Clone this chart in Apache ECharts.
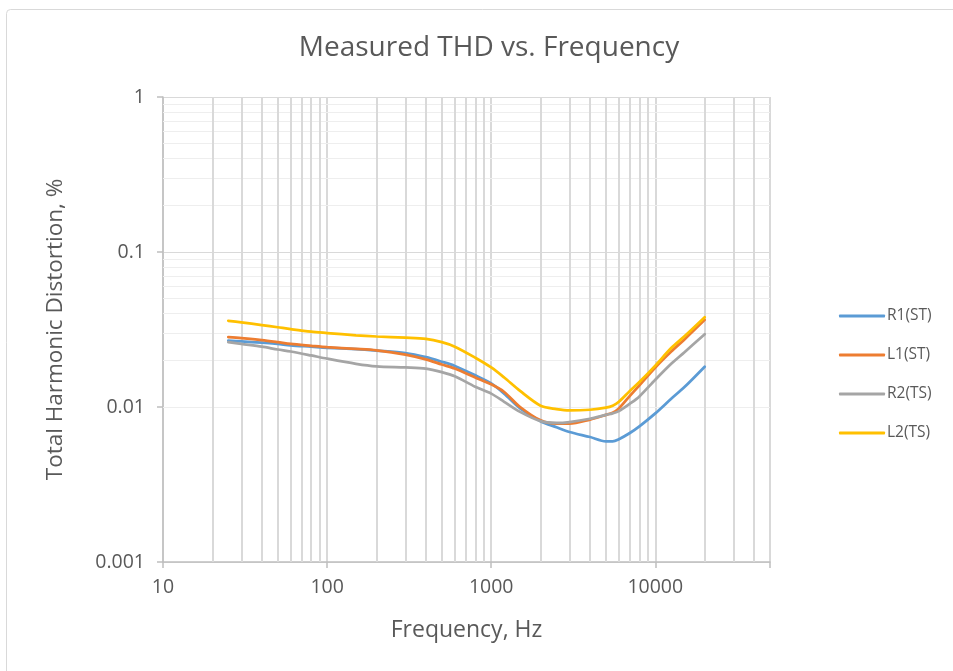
<!DOCTYPE html>
<html>
<head>
<meta charset="utf-8">
<script src="https://cdn.jsdelivr.net/npm/echarts@6/dist/echarts.min.js"></script>
<style>
html,body{margin:0;padding:0;background:#fff;}
#chart{width:953px;height:671px;}
</style>
</head>
<body>
<div id="chart"></div>
<script>
const frequencies = [25, 30, 40, 50, 60, 80, 100, 150, 200, 300, 400, 500, 600, 800, 1000, 1200, 1500, 2000, 2500, 3000, 4000, 5000, 5500, 6000, 7000, 8000, 10000, 12500, 15000, 20000];
const r1ST = [0.0268, 0.0265, 0.0260, 0.0255, 0.0250, 0.0245, 0.0241, 0.0236, 0.0231, 0.0223, 0.0210, 0.0196, 0.0184, 0.0160, 0.0142, 0.0122, 0.0098, 0.0081, 0.0074, 0.0069, 0.0064, 0.0060, 0.0060, 0.0062, 0.0068, 0.0075, 0.0091, 0.0113, 0.0134, 0.0182];
const l1ST = [0.0282, 0.0278, 0.0270, 0.0262, 0.0255, 0.0248, 0.0243, 0.0237, 0.0232, 0.0218, 0.0203, 0.0188, 0.0177, 0.0155, 0.0140, 0.0125, 0.0100, 0.0082, 0.0078, 0.0078, 0.0083, 0.0089, 0.0092, 0.0098, 0.0118, 0.0138, 0.0180, 0.0228, 0.0272, 0.0365];
const r2TS = [0.0262, 0.0255, 0.0245, 0.0235, 0.0228, 0.0215, 0.0205, 0.0190, 0.0183, 0.0180, 0.0177, 0.0168, 0.0158, 0.0135, 0.0122, 0.0108, 0.0093, 0.0081, 0.0079, 0.0080, 0.0084, 0.0089, 0.0091, 0.0094, 0.0105, 0.0117, 0.0150, 0.0190, 0.0225, 0.0295];
const l2TS = [0.0360, 0.0352, 0.0338, 0.0327, 0.0318, 0.0306, 0.0300, 0.0290, 0.0285, 0.0280, 0.0275, 0.0262, 0.0245, 0.0208, 0.0180, 0.0155, 0.0127, 0.0102, 0.0097, 0.0095, 0.0096, 0.0099, 0.0102, 0.0108, 0.0127, 0.0145, 0.0185, 0.0240, 0.0285, 0.0380];
const seriesNames = ['R1(ST)', 'L1(ST)', 'R2(TS)', 'L2(TS)'];
const seriesColors = ['#5B9BD5', '#ED7D31', '#A5A5A5', '#FFC000'];
const xTickLabels = ['10', '100', '1000', '10000'];
const yTickLabels = ['0.001', '0.01', '0.1', '1'];
const xMinorGrid = [20,30,40,50,60,70,80,90,200,300,400,500,600,700,800,900,2000,3000,4000,5000,6000,7000,8000,9000,20000,30000,40000];
const yMinorGrid = [0.002,0.003,0.004,0.005,0.006,0.007,0.008,0.009,0.02,0.03,0.04,0.05,0.06,0.07,0.08,0.09,0.2,0.3,0.4,0.5,0.6,0.7,0.8,0.9];

const font = "'Open Sans', 'Noto Sans', sans-serif";
const chart = echarts.init(document.getElementById('chart'));
const allData = [r1ST, l1ST, r2TS, l2TS];

const lineSeries = seriesNames.map((name, i) => ({
  name: name,
  type: 'line',
  smooth: 0.3,
  showSymbol: false,
  symbol: 'none',
  z: 5,
  lineStyle: { color: seriesColors[i], width: 2.75, cap: 'round' },
  itemStyle: { color: seriesColors[i] },
  data: frequencies.map((f, k) => [f, allData[i][k]])
}));

const gridSeries = {
  name: 'grid',
  type: 'line',
  data: [],
  z: 1,
  silent: true,
  markLine: {
    silent: true,
    symbol: 'none',
    animation: false,
    label: { show: false },
    data: [
      ...yMinorGrid.map(v => ({ yAxis: v, lineStyle: { color: '#eeeeee', width: 1, type: 'solid' } })),
      ...xMinorGrid.map(v => ({ xAxis: v, lineStyle: { color: '#d9d9d9', width: 2, type: 'solid' } }))
    ]
  }
};

chart.setOption({
  animation: false,
  backgroundColor: '#ffffff',
  title: {
    text: 'Measured THD vs. Frequency',
    left: 484, top: 29, textAlign: 'center',
    textStyle: { fontFamily: font, fontSize: 28, fontWeight: 'normal', color: '#595959' }
  },
  graphic: [{
    type: 'rect', silent: true, z: -10,
    shape: { x: 6.5, y: 9.5, width: 980, height: 700, r: 4 },
    style: { fill: 'none', stroke: '#d9d9d9', lineWidth: 1 }
  }],
  legend: {
    orient: 'vertical',
    left: 834, top: 303,
    itemWidth: 46, itemHeight: 3, itemGap: 23,
    icon: 'roundRect',
    data: seriesNames,
    textStyle: { fontFamily: font, fontSize: 15.5, color: '#595959', padding: [0, 0, 0, -3] }
  },
  grid: { left: 163, right: 183, top: 97, bottom: 109, containLabel: false },
  xAxis: {
    type: 'log', logBase: 10, min: 10, max: 50000,
    name: 'Frequency, Hz', nameLocation: 'middle', nameGap: 57,
    nameTextStyle: { fontFamily: font, fontSize: 23, color: '#595959' },
    axisLine: { show: true, lineStyle: { color: '#bfbfbf', width: 1.5 } },
    axisTick: { show: true, inside: false, length: 6, lineStyle: { color: '#bfbfbf', width: 1.5 } },
    axisLabel: {
      fontFamily: font, fontSize: 19.5, color: '#595959', margin: 15,
      formatter: v => { const k = Math.round(Math.log10(v)) - 1; return (Math.abs(Math.log10(v) - Math.round(Math.log10(v))) < 1e-6 && xTickLabels[k]) ? xTickLabels[k] : ''; }
    },
    splitLine: { show: true, lineStyle: { color: '#d9d9d9', width: 2 } }
  },
  yAxis: {
    type: 'log', logBase: 10, min: 0.001, max: 1,
    name: 'Total Harmonic Distortion, %', nameLocation: 'middle', nameGap: 96, nameRotate: 90,
    nameTextStyle: { fontFamily: font, fontSize: 22.5, color: '#595959' },
    axisLine: { show: true, lineStyle: { color: '#bfbfbf', width: 1.5 } },
    axisTick: { show: true, inside: false, length: 6, lineStyle: { color: '#bfbfbf', width: 1.5 } },
    axisLabel: {
      fontFamily: font, fontSize: 19.5, color: '#595959', margin: 18,
      formatter: v => { const k = Math.round(Math.log10(v)) + 3; return yTickLabels[k] || ''; }
    },
    splitLine: { show: true, lineStyle: { color: '#d9d9d9', width: 1.2 } }
  },
  series: [gridSeries, ...lineSeries]
});
</script>
</body>
</html>
